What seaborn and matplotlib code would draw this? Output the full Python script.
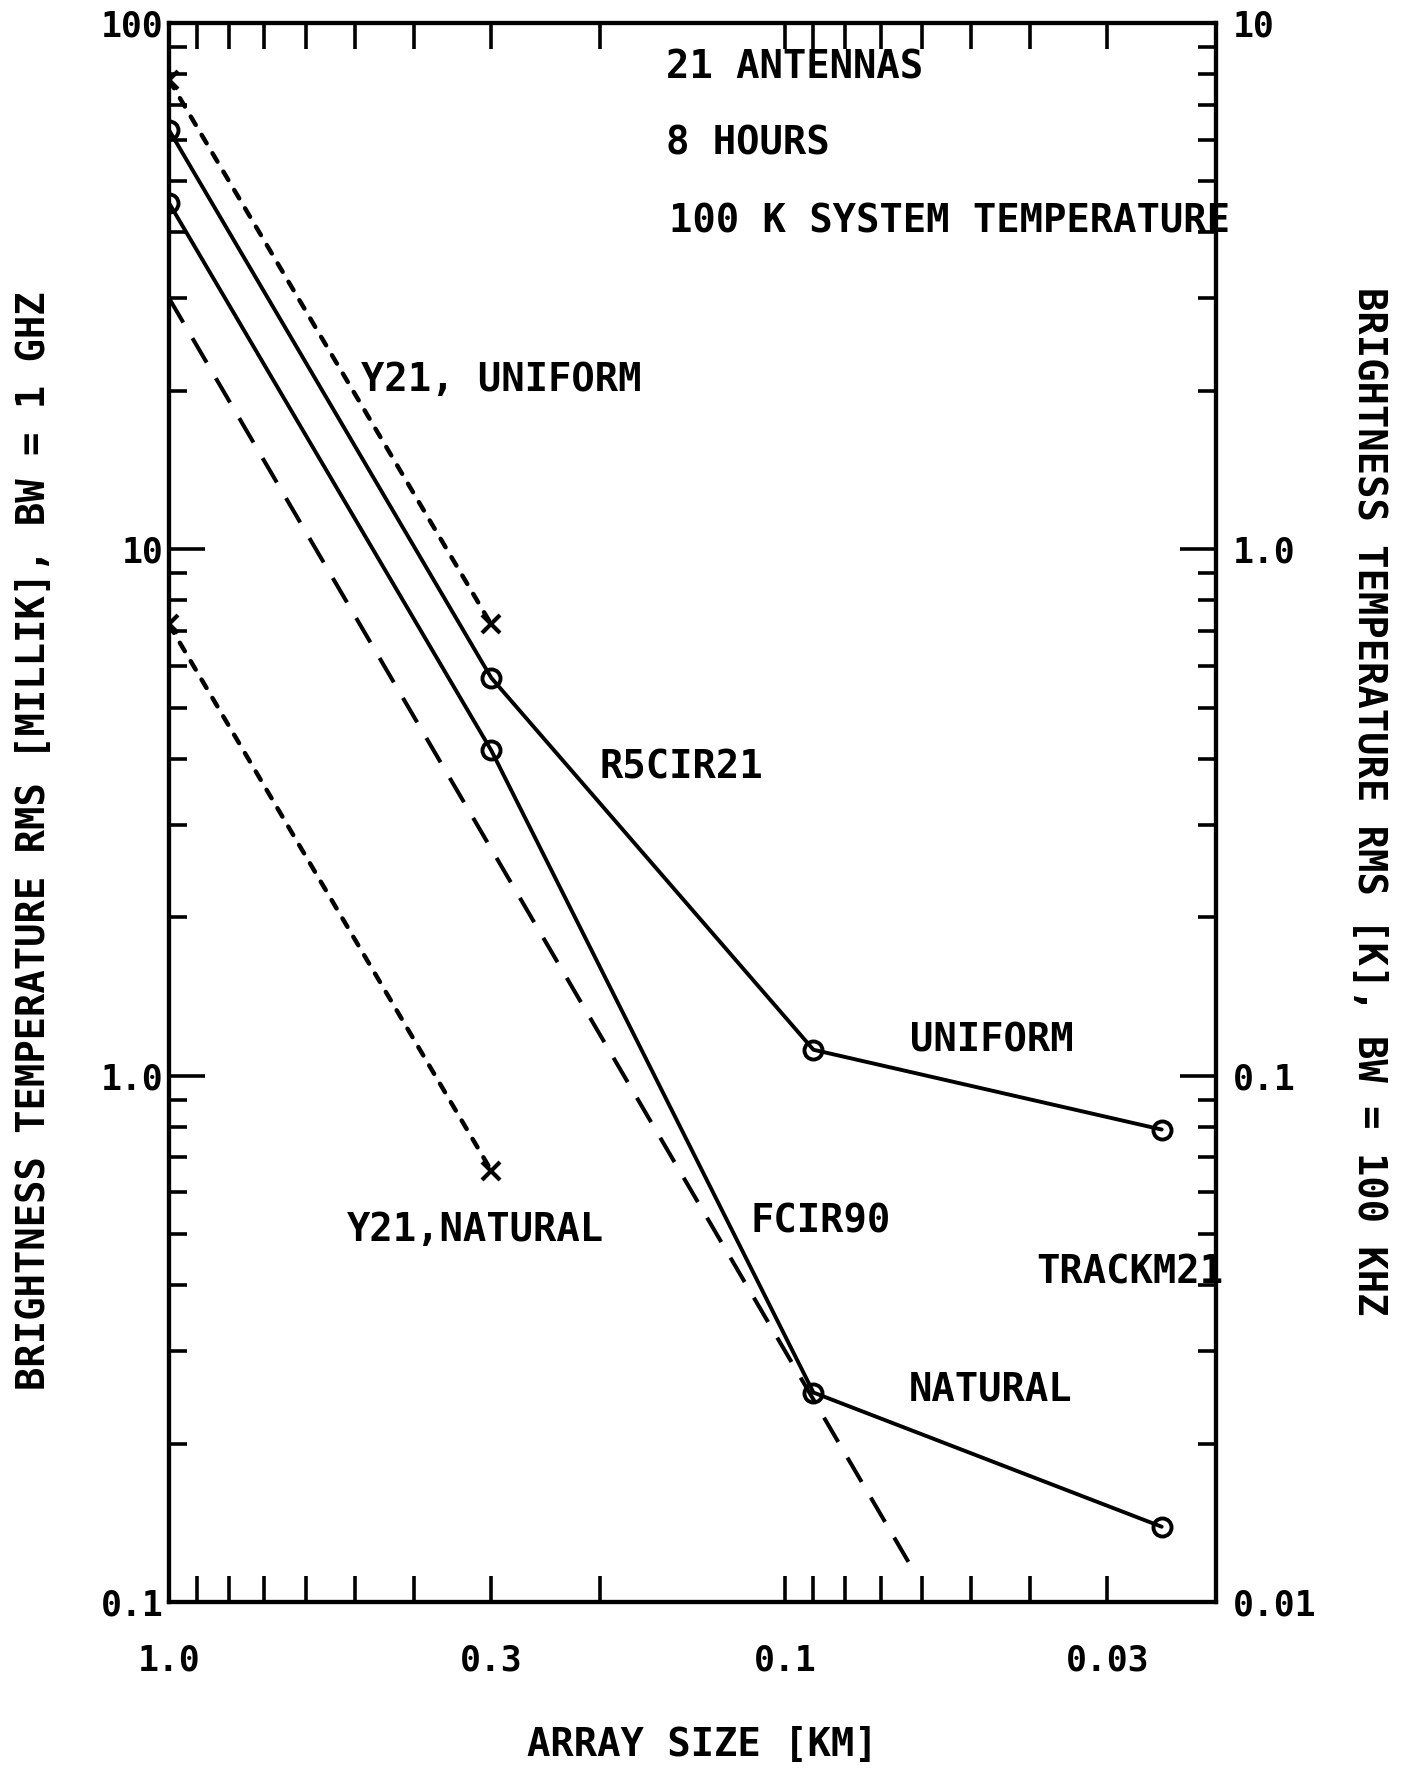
import numpy as np
import matplotlib
matplotlib.use("Agg")
import matplotlib.pyplot as plt
from matplotlib.ticker import FixedLocator, FixedFormatter, LogLocator, NullFormatter
import seaborn as sns

# array size (km) and brightness temperature rms (milliK, BW = 1 GHz)
size_y21 = [1.0, 0.3]
y21_uniform = [78.0, 7.2]
y21_natural = [7.2, 0.66]

size_r5 = [1.0, 0.3, 0.09, 0.0245]
r5_uniform = [62.6, 5.7, 1.12, 0.79]
r5_natural = [45.5, 4.15, 0.25, 0.139]

size_fcir90 = [1.0, 0.062]
fcir90_rms = [30.0, 0.115]

xtick_vals = [1.0, 0.3, 0.1, 0.03]
xtick_labels = ["1.0", "0.3", "0.1", "0.03"]
ytick_vals = [0.1, 1.0, 10, 100]
ytick_labels = ["0.1", "1.0", "10", "100"]
ytick2_vals = [0.01, 0.1, 1.0, 10]
ytick2_labels = ["0.01", "0.1", "1.0", "10"]

notes = ["21 ANTENNAS", "8 HOURS", "100 K SYSTEM TEMPERATURE"]
curve_labels = ["Y21, UNIFORM", "R5CIR21", "UNIFORM", "Y21,NATURAL",
                "FCIR90", "TRACKM21", "NATURAL"]


def setup_style():
    sns.set_theme(style="ticks")
    plt.rcParams.update({
        "font.family": ["DejaVu Sans Mono", "DejaVu Sans"],
        "font.weight": "bold",
        "axes.labelweight": "bold",
        "axes.labelcolor": "black",
        "axes.linewidth": 3.0,
        "axes.edgecolor": "black",
        "text.color": "black",
        "xtick.color": "black",
        "ytick.color": "black",
    })


def style_log_y(axis, vals, labels, side):
    axis.yaxis.set_major_locator(FixedLocator(vals))
    axis.yaxis.set_major_formatter(FixedFormatter(labels))
    axis.yaxis.set_minor_locator(LogLocator(base=10, subs=np.arange(2, 10), numticks=20))
    axis.yaxis.set_minor_formatter(NullFormatter())
    on_left = side == "left"
    axis.tick_params(axis="y", which="major", direction="in", length=26, width=2.6,
                     left=on_left, right=not on_left, labelleft=on_left,
                     labelright=not on_left, labelsize=25, pad=4 if on_left else 12)
    axis.tick_params(axis="y", which="minor", direction="in", length=13, width=2.6,
                     left=on_left, right=not on_left)


def plot_noise():
    fig = plt.figure(figsize=(14.04, 17.69), dpi=100)
    ax = fig.add_axes([0.1204, 0.0944, 0.7457, 0.8926])
    ax.set_xscale("log")
    ax.set_yscale("log")
    ax.set_xlim(1.0, 0.02)
    ax.set_ylim(0.1, 100)

    solid = dict(color="black", linewidth=2.8, marker="o", markersize=13,
                 markerfacecolor="none", markeredgecolor="black",
                 markeredgewidth=2.8, errorbar=None, sort=False)
    dotted = dict(color="black", linewidth=3.2, linestyle=(0, (2.2, 2.6)),
                  dash_capstyle="round", marker="x", markersize=13,
                  markeredgecolor="black", markeredgewidth=3.0,
                  errorbar=None, sort=False)

    sns.lineplot(x=size_y21, y=y21_uniform, ax=ax, **dotted)
    sns.lineplot(x=size_y21, y=y21_natural, ax=ax, **dotted)
    sns.lineplot(x=size_r5, y=r5_uniform, ax=ax, **solid)
    sns.lineplot(x=size_r5, y=r5_natural, ax=ax, **solid)
    sns.lineplot(x=size_fcir90, y=fcir90_rms, ax=ax, color="black", linewidth=2.9,
                 linestyle=(0, (7, 4.5)), errorbar=None, sort=False)

    ax.set_xlim(1.0, 0.02)
    ax.set_ylim(0.1, 100)

    # x ticks on top and bottom, pointing in
    ax.xaxis.set_major_locator(FixedLocator(xtick_vals))
    ax.xaxis.set_major_formatter(FixedFormatter(xtick_labels))
    ax.xaxis.set_minor_locator(LogLocator(base=10, subs=np.arange(2, 10), numticks=20))
    ax.xaxis.set_minor_formatter(NullFormatter())
    ax.tick_params(axis="x", which="both", direction="in", length=19, width=2.6,
                   top=True, bottom=True, labelsize=25, pad=30)
    style_log_y(ax, ytick_vals, ytick_labels, "left")

    ax2 = ax.twinx()
    ax2.set_yscale("log")
    ax2.set_ylim(0.01, 10)
    style_log_y(ax2, ytick2_vals, ytick2_labels, "right")
    for a in (ax, ax2):
        for s in a.spines.values():
            s.set_linewidth(3.0)
            s.set_color("black")

    ax.set_xlabel("ARRAY SIZE [KM]", fontsize=28, va="center", color="black")
    ax.xaxis.set_label_coords(0.509, -0.0905)
    ax.set_ylabel("BRIGHTNESS TEMPERATURE RMS [MILLIK], BW = 1 GHZ", fontsize=28,
                  va="center", color="black")
    ax.yaxis.set_label_coords(-0.129, 0.482)
    ax2.set_ylabel("BRIGHTNESS TEMPERATURE RMS [K], BW = 100 KHZ", fontsize=28,
                   rotation=-90, va="center", color="black")
    ax2.yaxis.set_label_coords(1.146, 0.507)

    note_pos = [(0.4747, 0.9717), (0.4747, 0.9240), (0.4776, 0.8740)]
    for txt, (fx, fy) in zip(notes, note_pos):
        ax.text(fx, fy, txt, transform=ax.transAxes, fontsize=28, ha="left", va="center")

    label_pos = [(0.1834, 0.7739), (0.4107, 0.5288), (0.7077, 0.3555), (0.1695, 0.2356),
                 (0.5554, 0.2407), (0.8281, 0.2084), (0.7063, 0.1343)]
    for txt, (fx, fy) in zip(curve_labels, label_pos):
        ax.text(fx, fy, txt, transform=ax.transAxes, fontsize=28, ha="left", va="center")

    fig.savefig("out.png", dpi=100)
    plt.close(fig)


if __name__ == "__main__":
    setup_style()
    plot_noise()
